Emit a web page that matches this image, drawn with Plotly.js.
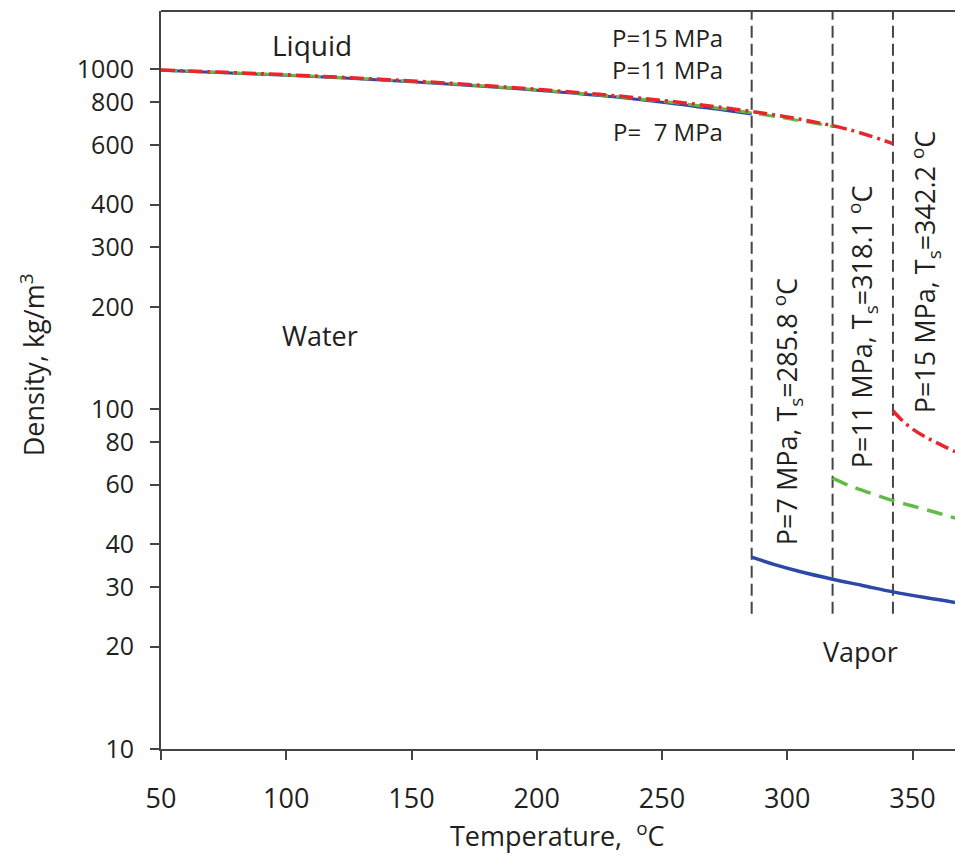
<!DOCTYPE html>
<html>
<head>
<meta charset="utf-8">
<script src="https://cdn.plot.ly/plotly-3.0.1.min.js"></script>
<style>html,body{margin:0;padding:0;background:#fff;}#chart{width:955px;height:858px;}</style>
</head>
<body>
<div id="chart"></div>
<script>
// Saturation temperatures (°C)
const satTemps = [285.8, 318.1, 342.2];
const satLabels = ["P=7 MPa, T<sub>s</sub>=285.8 <sup>o</sup>C", "P=11 MPa, T<sub>s</sub>=318.1 <sup>o</sup>C", "P=15 MPa, T<sub>s</sub>=342.2 <sup>o</sup>C"];

// Liquid branch, 7 MPa
const liqT7 = [50, 75, 100, 125, 150, 175, 200, 225, 250, 275, 285.8];
const liqD7 = [994, 978, 961, 942, 920, 896, 869, 838, 801, 758, 740];
// Liquid branch, 11 MPa
const liqT11 = [50, 75, 100, 125, 150, 175, 200, 225, 250, 275, 300, 318.1];
const liqD11 = [995, 979, 963, 944, 923, 898, 871, 841, 806, 765, 717, 680];
// Liquid branch, 15 MPa
const liqT15 = [50, 75, 100, 125, 150, 175, 200, 225, 250, 275, 300, 325, 342.2];
const liqD15 = [997, 981, 965, 946, 925, 901, 874, 845, 811, 771, 725, 664, 605];

// Vapor branch, 7 MPa
const vapT7 = [285.8, 295, 305, 318.1, 330, 342.2, 355, 367];
const vapD7 = [36.7, 34.9, 33.3, 31.6, 30.3, 29.0, 27.9, 27.0];
// Vapor branch, 11 MPa
const vapT11 = [318.1, 325, 333, 342.2, 350, 358, 367];
const vapD11 = [62.7, 59.5, 56.7, 53.8, 51.9, 50.0, 47.8];
// Vapor branch, 15 MPa
const vapT15 = [342.2, 346, 350, 355, 360, 367];
const vapD15 = [99.0, 92.5, 87.5, 83.0, 79.5, 75.0];

const yTicks = [10, 20, 30, 40, 60, 80, 100, 200, 300, 400, 600, 800, 1000];
const xTicks = [50, 100, 150, 200, 250, 300, 350];

const BLUE = '#2c49a8', GREEN = '#62bb47', RED = '#e8262b', GRAY = '#444';
const FONT = 'Open Sans, Noto Sans, sans-serif';
const TXT = '#231f20';

const traces = [];
// dashed saturation lines
satTemps.forEach(t => traces.push({
  x: [t, t], y: [25, 1600], mode: 'lines', showlegend: false, hoverinfo: 'skip',
  line: {color: GRAY, width: 2, dash: '12px,6px'}
}));
traces.push({x: liqT7, y: liqD7, mode: 'lines', line: {color: BLUE, width: 3, shape: 'spline'}, showlegend: false});
traces.push({x: vapT7, y: vapD7, mode: 'lines', line: {color: BLUE, width: 3.5, shape: 'spline'}, showlegend: false});
traces.push({x: liqT11, y: liqD11, mode: 'lines', line: {color: GREEN, width: 3, dash: '16px,8px', shape: 'spline'}, showlegend: false});
traces.push({x: vapT11, y: vapD11, mode: 'lines', line: {color: GREEN, width: 3.5, dash: '16px,9px', shape: 'spline'}, showlegend: false});
traces.push({x: liqT15, y: liqD15, mode: 'lines', line: {color: RED, width: 3.5, dash: '14px,5px,3px,5px', shape: 'spline'}, showlegend: false});
traces.push({x: vapT15, y: vapD15, mode: 'lines', line: {color: RED, width: 3.5, dash: '14px,5px,3px,5px', shape: 'spline'}, showlegend: false});

const L = 161, T = 10.5, W = 794, H = 738.5;
const px = x => (x - L) / W;
const py = y => (T + H - y) / H;
function ann(text, x, y, opts) {
  return Object.assign({text: text, xref: 'paper', yref: 'paper', x: px(x), y: py(y),
    xanchor: 'center', yanchor: 'middle', showarrow: false, borderpad: 0,
    font: {family: FONT, size: 27, color: TXT}}, opts || {});
}
const pFont = {family: FONT, size: 24, color: TXT};
const annotations = [
  ann('Liquid', 312, 45, {font: {family: FONT, size: 28, color: TXT}}),
  ann('P=15 MPa', 724, 37, {xanchor: 'right', font: pFont}),
  ann('P=11 MPa', 724, 69, {xanchor: 'right', font: pFont}),
  ann('P=  7 MPa', 724, 131, {xanchor: 'right', font: pFont}),
  ann('Water', 320, 335),
  ann('Vapor', 860, 651),
  ann(satLabels[0], 787, 412, {textangle: -90}),
  ann(satLabels[1], 862, 327, {textangle: -90}),
  ann(satLabels[2], 925, 272, {textangle: -90}),
  ann('Temperature,  <sup>o</sup>C', 557, 835),
  ann('Density, kg/m<sup>3</sup>', 32, 365, {textangle: -90})
];

const layout = {
  width: 955, height: 858,
  margin: {l: L, r: 0, t: T, b: 858 - T - H, pad: 0},
  paper_bgcolor: '#fff', plot_bgcolor: '#fff',
  showlegend: false,
  font: {family: FONT, size: 27, color: TXT},
  xaxis: {
    range: [50, 50 + W / 2.505], tickvals: xTicks, ticktext: xTicks.map(String),
    showgrid: false, zeroline: false, showline: true, linecolor: GRAY, linewidth: 2,
    ticks: 'outside', ticklen: 9, tickwidth: 2, tickcolor: GRAY, ticklabelstandoff: 16,
    tickfont: {family: FONT, size: 27, color: TXT}
  },
  yaxis: {
    type: 'log', range: [1, 3 + (69 - T) / 340], tickvals: yTicks, ticktext: yTicks.map(String),
    showgrid: false, zeroline: false, showline: true, linecolor: GRAY, linewidth: 2,
    ticks: 'outside', ticklen: 9, tickwidth: 2, tickcolor: GRAY, ticklabelstandoff: 11,
    tickfont: {family: FONT, size: 25, color: TXT}
  },
  shapes: [{type: 'line', xref: 'paper', yref: 'paper', x0: 0, x1: 1, y0: 1, y1: 1, line: {color: GRAY, width: 2}}],
  annotations: annotations
};

Plotly.newPlot('chart', traces, layout, {displayModeBar: false, staticPlot: true});
</script>
</body>
</html>
